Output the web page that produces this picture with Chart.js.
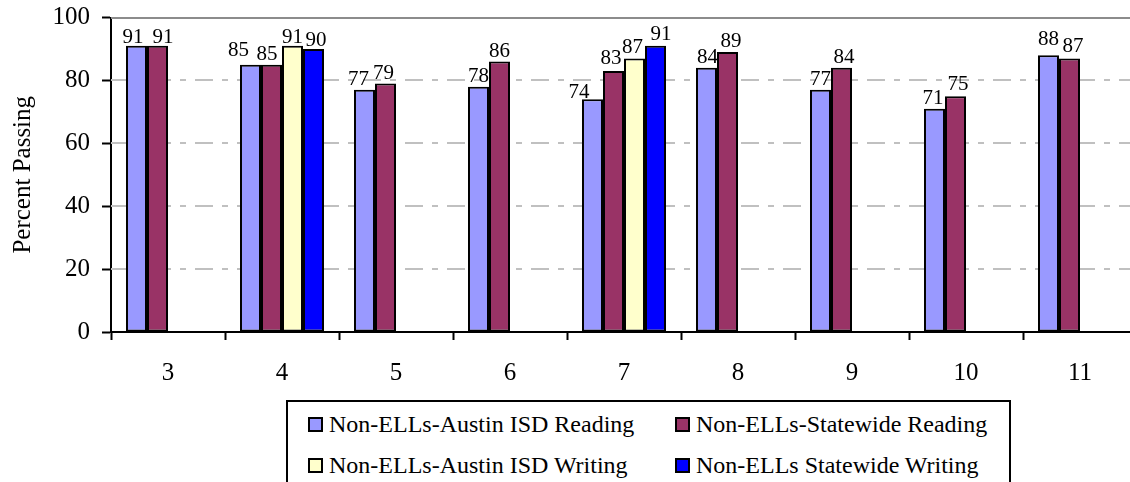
<!DOCTYPE html>
<html>
<head>
<meta charset="utf-8">
<script src="https://cdn.jsdelivr.net/npm/chart.js@4/dist/chart.umd.min.js"></script>
<style>
  html, body { margin: 0; padding: 0; background: #fff; overflow: hidden; }
  #wrap { position: relative; width: 1130px; height: 482px; overflow: hidden; }
  #holder { position: absolute; left: 0; top: 0; width: 1140px; height: 482px; }
  #legend {
    position: absolute; left: 286px; top: 400px; width: 725px; height: 100px;
    border: 2px solid #000; box-sizing: border-box; background: #fff;
    font-family: "Liberation Serif", "Times New Roman", serif; font-size: 24px; color: #000;
  }
  .item { position: absolute; display: flex; align-items: center; white-space: nowrap; height: 30px; }
  .swatch { width: 11px; height: 11px; border: 2px solid #000; margin-right: 6px; }
</style>
</head>
<body>
<div id="wrap">
  <div id="holder"><canvas id="chart" width="1140" height="482"></canvas></div>
  <div id="legend"></div>
</div>
<script>
// Grades tested
const grades = ['3', '4', '5', '6', '7', '8', '9', '10', '11'];

// Percent passing, Non-ELL students
const austinReading    = [91, 85, 77, 78, 74, 84, 77, 71, 88];
const statewideReading = [91, 85, 79, 86, 83, 89, 84, 75, 87];
const austinWriting    = [null, 91, null, null, 87, null, null, null, null];
const statewideWriting = [null, 90, null, null, 91, null, null, null, null];

const seriesNames = [
  'Non-ELLs-Austin ISD Reading',
  'Non-ELLs-Statewide Reading',
  'Non-ELLs-Austin ISD Writing',
  'Non-ELLs Statewide Writing'
];
const seriesColors = ['#9999FF', '#993366', '#FFFFCC', '#0000FF'];

const yTicks = [0, 20, 40, 60, 80, 100];

const serif = '"Liberation Serif", "Times New Roman", serif';

// Label shifts (px) so neighbouring value labels stay apart: "categoryIndex|datasetIndex"
const labelShift = {
  '0|0': [-3.5, 2], '0|1': [5.5, 2],
  '1|0': [-12, -3.5], '1|1': [-4.5, 0], '1|2': [0, 2], '1|3': [2.5, 2.5],
  '2|0': [-6, 0], '2|1': [-2, 0],
  '4|0': [-13.5, 4], '4|1': [-2.5, -1.5], '4|2': [-2, 0], '4|3': [5.5, -1],
  '5|0': [1, 0], '5|1': [3.5, 0],
  '6|1': [2.5, 0],
  '7|0': [-1.5, 0], '7|1': [2.5, -1],
  '8|0': [0, -5], '8|1': [3.5, -1.5]
};

// Dash-dot gridlines behind the bars, solid line on top
const gridPlugin = {
  id: 'officeGrid',
  beforeDatasetsDraw(chart) {
    const { ctx, chartArea, scales } = chart;
    ctx.save();
    yTicks.forEach(v => {
      if (v === 0) return;
      const y = Math.round(scales.y.getPixelForValue(v));
      ctx.beginPath();
      if (v === 100) {
        ctx.setLineDash([]);
        ctx.strokeStyle = '#8c8c8c';
      } else {
        ctx.setLineDash([18, 9, 6, 9]);
        ctx.strokeStyle = '#c0c0c0';
      }
      ctx.lineWidth = 2;
      ctx.moveTo(chartArea.left, y);
      ctx.lineTo(chartArea.right, y);
      ctx.stroke();
    });
    ctx.restore();
  }
};

// Value labels above each bar
const valuePlugin = {
  id: 'barValues',
  afterDatasetsDraw(chart) {
    const { ctx } = chart;
    ctx.save();
    ctx.font = '21px ' + serif;
    ctx.fillStyle = '#000';
    ctx.textAlign = 'center';
    ctx.textBaseline = 'alphabetic';
    chart.data.datasets.forEach((ds, i) => {
      chart.getDatasetMeta(i).data.forEach((bar, j) => {
        const v = ds.data[j];
        if (v === null || v === undefined) return;
        const [dx, dy] = labelShift[j + '|' + i] || [0, 0];
        ctx.fillText(String(v), bar.x + dx, bar.y - 5 + dy);
      });
    });
    ctx.restore();
  }
};

const datasets = [austinReading, statewideReading, austinWriting, statewideWriting].map((d, i) => ({
  label: seriesNames[i],
  data: d,
  backgroundColor: seriesColors[i],
  borderColor: '#000',
  borderWidth: 2,
  borderSkipped: false,
  categoryPercentage: 0.737,
  barPercentage: 1.0
}));

new Chart(document.getElementById('chart'), {
  type: 'bar',
  data: { labels: grades, datasets },
  options: {
    responsive: false,
    animation: false,
    events: [],
    layout: { padding: { top: 17.5, right: 3, bottom: 76, left: 0 } },
    plugins: { legend: { display: false }, tooltip: { enabled: false } },
    scales: {
      x: {
        offset: true,
        grid: {
          offset: true,
          drawOnChartArea: false,
          drawTicks: true,
          tickLength: 8,
          tickWidth: 2,
          tickColor: '#000'
        },
        border: { display: true, color: '#000', width: 2 },
        ticks: {
          padding: 18,
          color: '#000',
          font: { family: serif, size: 25 },
          maxRotation: 0
        }
      },
      y: {
        min: 0,
        max: 100,
        afterFit(scale) {
          scale.width = 111;
          scale.paddingTop = 0;
          scale.paddingBottom = 0;
        },
        afterBuildTicks(scale) { scale.ticks = yTicks.map(v => ({ value: v })); },
        grid: {
          drawOnChartArea: false,
          drawTicks: true,
          tickLength: 9,
          tickWidth: 2,
          tickColor: '#000'
        },
        border: { display: true, color: '#000', width: 2 },
        ticks: {
          padding: 12,
          color: '#000',
          font: { family: serif, size: 25, lineHeight: 1 }
        },
        title: {
          display: true,
          text: 'Percent Passing',
          color: '#000',
          font: { family: serif, size: 25 },
          padding: { top: 8, bottom: 0 }
        }
      }
    }
  },
  plugins: [gridPlugin, valuePlugin]
});

// Two-column boxed key built from the series names and colours
const legend = document.getElementById('legend');
const slots = [
  { left: 20, top: 7 }, { left: 387, top: 7 },
  { left: 20, top: 48 }, { left: 387, top: 48 }
];
seriesNames.forEach((name, i) => {
  const item = document.createElement('div');
  item.className = 'item';
  item.style.left = slots[i].left + 'px';
  item.style.top = slots[i].top + 'px';
  const sw = document.createElement('span');
  sw.className = 'swatch';
  sw.style.background = seriesColors[i];
  const tx = document.createElement('span');
  tx.textContent = name;
  item.appendChild(sw);
  item.appendChild(tx);
  legend.appendChild(item);
});
</script>
</body>
</html>
